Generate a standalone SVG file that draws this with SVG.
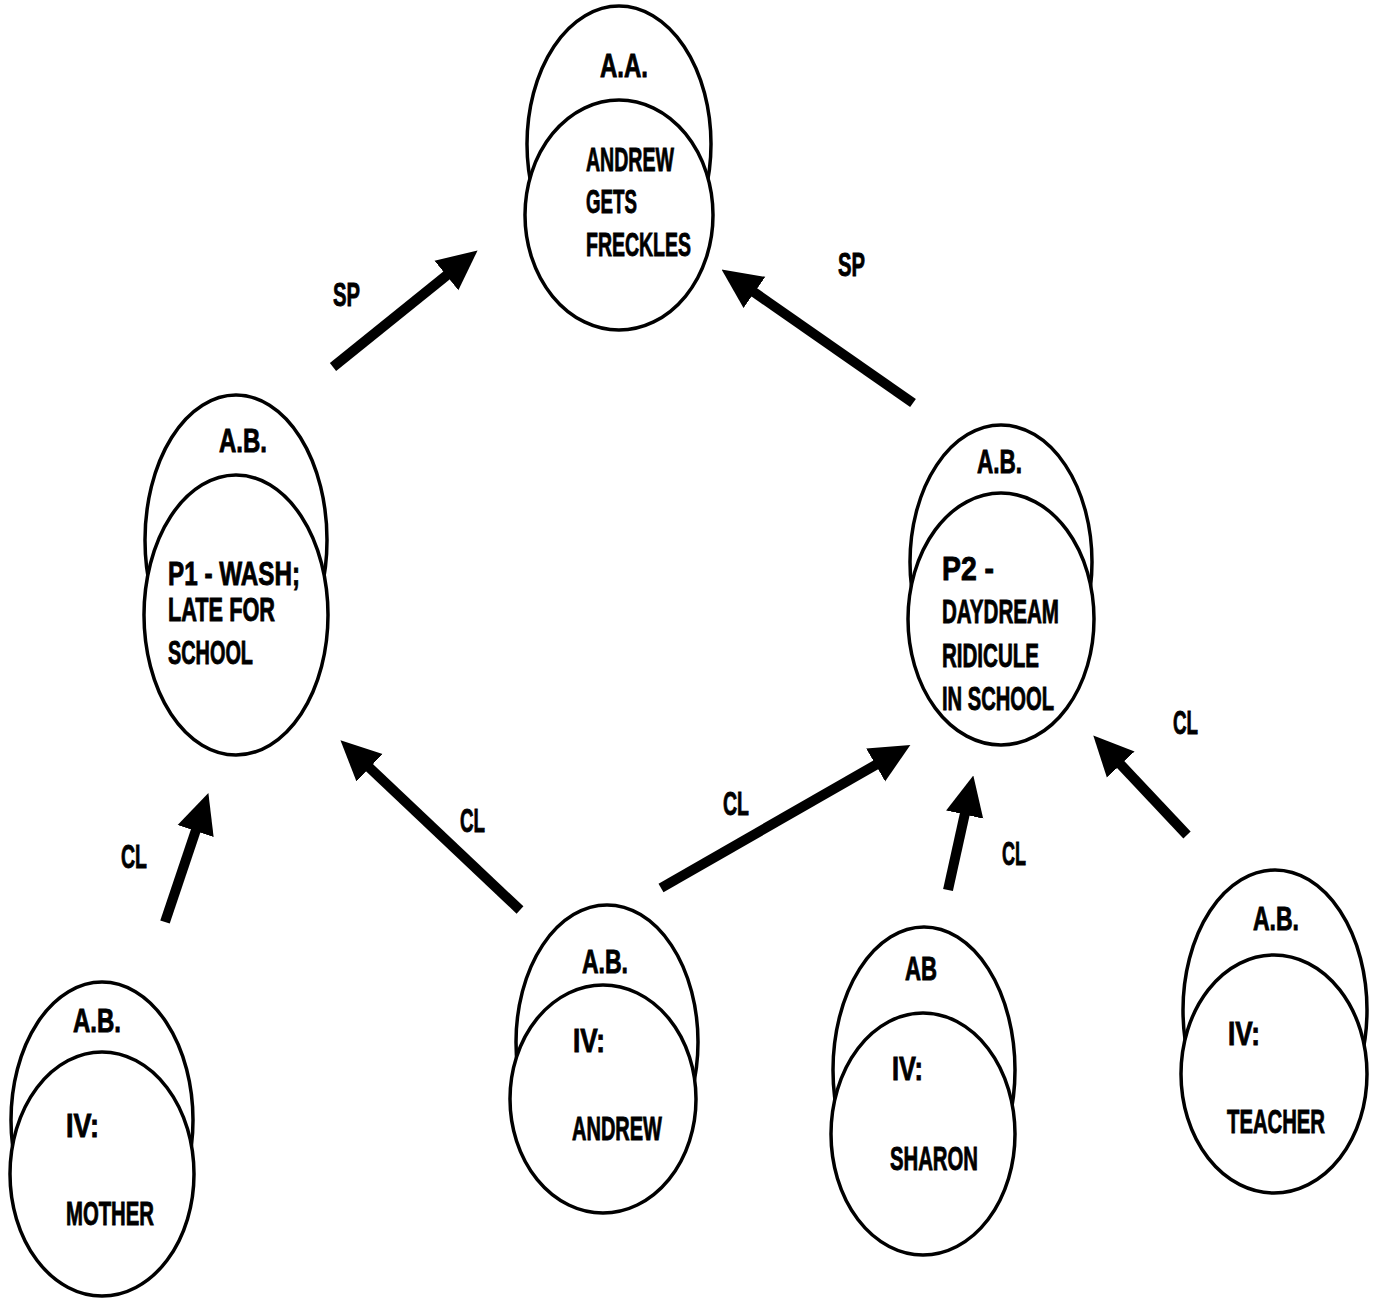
<svg xmlns="http://www.w3.org/2000/svg" width="1377" height="1299" viewBox="0 0 1377 1299">
<style>
.bg{fill:#fff}
.c{fill:#fff;stroke:#000;stroke-width:3.5}
.t{font-family:"Liberation Sans","DejaVu Sans",sans-serif;font-weight:bold;font-size:34px;fill:#000;stroke:#000;stroke-width:0.9}
.a{stroke:#000;stroke-width:10;fill:none;marker-end:url(#head)}
</style>
<defs>
<marker id="head" markerUnits="userSpaceOnUse" markerWidth="40" markerHeight="40" viewBox="0 0 40 40" refX="20" refY="20" orient="auto">
<path d="M0,1 L40,20 L0,39 Z" fill="#000"/>
</marker>
</defs>
<rect class="bg" x="0" y="0" width="1377" height="1299"/>
<g id="connectors">
<line class="a" x1="333" y1="367" x2="462" y2="263"/>
<line class="a" x1="913" y1="403" x2="738" y2="281"/>
<line class="a" x1="165" y1="922" x2="202" y2="812"/>
<line class="a" x1="520" y1="910" x2="355" y2="754"/>
<line class="a" x1="661" y1="888" x2="893" y2="755"/>
<line class="a" x1="948" y1="890" x2="969" y2="795"/>
<line class="a" x1="1187" y1="835" x2="1107" y2="750"/>
<text class="t" x="333" y="306" textLength="27" lengthAdjust="spacingAndGlyphs">SP</text>
<text class="t" x="838" y="276" textLength="27" lengthAdjust="spacingAndGlyphs">SP</text>
<text class="t" x="121" y="868" textLength="26" lengthAdjust="spacingAndGlyphs">CL</text>
<text class="t" x="460" y="832" textLength="25" lengthAdjust="spacingAndGlyphs">CL</text>
<text class="t" x="723" y="815" textLength="26" lengthAdjust="spacingAndGlyphs">CL</text>
<text class="t" x="1002" y="865" textLength="24" lengthAdjust="spacingAndGlyphs">CL</text>
<text class="t" x="1173" y="734" textLength="25" lengthAdjust="spacingAndGlyphs">CL</text>
</g>
<g id="node-aa">
<ellipse class="c" cx="619" cy="144" rx="92" ry="138"/>
<ellipse class="c" cx="619" cy="215" rx="94" ry="115"/>
<text class="t" x="600" y="77" textLength="48" lengthAdjust="spacingAndGlyphs">A.A.</text>
<text class="t" x="586" y="171" textLength="88" lengthAdjust="spacingAndGlyphs">ANDREW</text>
<text class="t" x="586" y="213" textLength="51" lengthAdjust="spacingAndGlyphs">GETS</text>
<text class="t" x="586" y="256" textLength="105" lengthAdjust="spacingAndGlyphs">FRECKLES</text>
</g>
<g id="node-p1">
<ellipse class="c" cx="236" cy="540" rx="91" ry="145"/>
<ellipse class="c" cx="236" cy="615" rx="92" ry="140"/>
<text class="t" x="219" y="452" textLength="48" lengthAdjust="spacingAndGlyphs">A.B.</text>
<text class="t" x="168" y="585" textLength="132" lengthAdjust="spacingAndGlyphs">P1 - WASH;</text>
<text class="t" x="168" y="621" textLength="107" lengthAdjust="spacingAndGlyphs">LATE FOR</text>
<text class="t" x="168" y="664" textLength="85" lengthAdjust="spacingAndGlyphs">SCHOOL</text>
</g>
<g id="node-p2">
<ellipse class="c" cx="1001" cy="562" rx="91" ry="137"/>
<ellipse class="c" cx="1001" cy="619" rx="93" ry="126"/>
<text class="t" x="977" y="473" textLength="45" lengthAdjust="spacingAndGlyphs">A.B.</text>
<text class="t" x="942" y="580" textLength="52" lengthAdjust="spacingAndGlyphs">P2 -</text>
<text class="t" x="942" y="623" textLength="117" lengthAdjust="spacingAndGlyphs">DAYDREAM</text>
<text class="t" x="942" y="667" textLength="97" lengthAdjust="spacingAndGlyphs">RIDICULE</text>
<text class="t" x="942" y="710" textLength="112" lengthAdjust="spacingAndGlyphs">IN SCHOOL</text>
</g>
<g id="node-mother">
<ellipse class="c" cx="102" cy="1120" rx="91" ry="138"/>
<ellipse class="c" cx="102" cy="1174" rx="92" ry="122"/>
<text class="t" x="73" y="1032" textLength="48" lengthAdjust="spacingAndGlyphs">A.B.</text>
<text class="t" x="66" y="1137" textLength="33" lengthAdjust="spacingAndGlyphs">IV:</text>
<text class="t" x="66" y="1225" textLength="88" lengthAdjust="spacingAndGlyphs">MOTHER</text>
</g>
<g id="node-andrew">
<ellipse class="c" cx="607" cy="1042" rx="91" ry="137"/>
<ellipse class="c" cx="603" cy="1099" rx="93" ry="114"/>
<text class="t" x="582" y="973" textLength="46" lengthAdjust="spacingAndGlyphs">A.B.</text>
<text class="t" x="573" y="1052" textLength="32" lengthAdjust="spacingAndGlyphs">IV:</text>
<text class="t" x="572" y="1140" textLength="90" lengthAdjust="spacingAndGlyphs">ANDREW</text>
</g>
<g id="node-sharon">
<ellipse class="c" cx="924" cy="1070" rx="91" ry="143"/>
<ellipse class="c" cx="923" cy="1134" rx="92" ry="121"/>
<text class="t" x="905" y="980" textLength="32" lengthAdjust="spacingAndGlyphs">AB</text>
<text class="t" x="892" y="1080" textLength="31" lengthAdjust="spacingAndGlyphs">IV:</text>
<text class="t" x="890" y="1170" textLength="88" lengthAdjust="spacingAndGlyphs">SHARON</text>
</g>
<g id="node-teacher">
<ellipse class="c" cx="1275" cy="1010" rx="92" ry="140"/>
<ellipse class="c" cx="1274" cy="1074" rx="93" ry="119"/>
<text class="t" x="1253" y="930" textLength="46" lengthAdjust="spacingAndGlyphs">A.B.</text>
<text class="t" x="1228" y="1045" textLength="32" lengthAdjust="spacingAndGlyphs">IV:</text>
<text class="t" x="1227" y="1133" textLength="98" lengthAdjust="spacingAndGlyphs">TEACHER</text>
</g>
</svg>
